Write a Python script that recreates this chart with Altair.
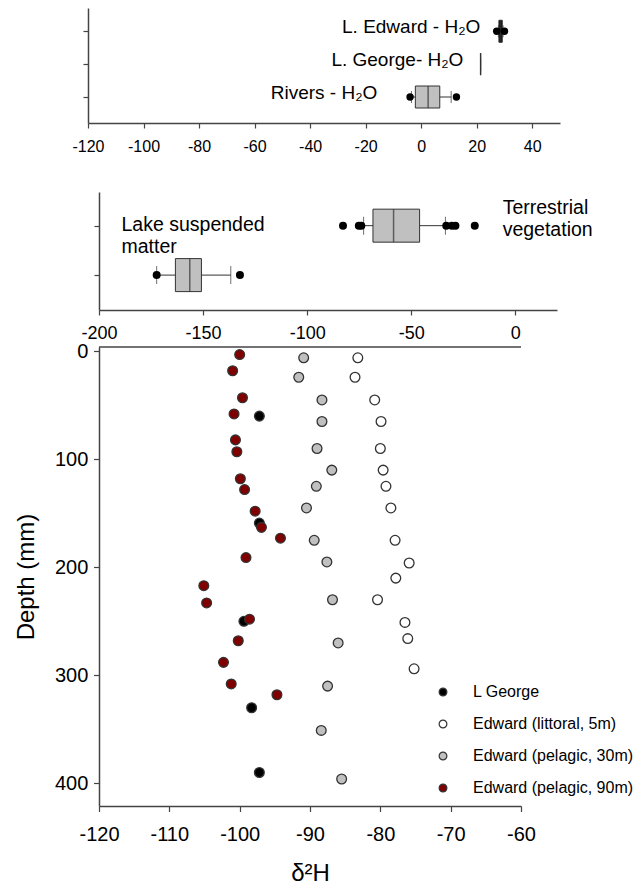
import altair as alt
import pandas as pd

FONT = "Liberation Sans"
AX = "#444444"
EDGE = "#333333"
BOX_FILL = "#c0c0c0"

# ---------------- top panel: water d2H (box summaries) ----------------
water_names = ["L. Edward - H₂O", "L. George- H₂O", "Rivers - H₂O"]
water_row = [1, 2, 3]
water_low = [27.8, 21.4, -3.5]
water_q1 = [28.0, 21.4, -2.1]
water_median = [28.6, 21.4, 2.5]
water_q3 = [29.2, 21.4, 6.7]
water_high = [29.5, 21.4, 10.8]
water_label_at = [21.3, 15.2, -15.8]
water_out_row = [1, 1, 3, 3]
water_out_value = [27.2, 30.0, -4.0, 12.7]

# ---------------- middle panel: organic matter d2H ----------------
mat_names = ["Terrestrial\nvegetation", "Lake suspended\nmatter"]
mat_row = [1, 2]
mat_low = [-72.9, -172.3]
mat_q1 = [-68.4, -163.3]
mat_median = [-58.5, -156.4]
mat_q3 = [-46.0, -150.8]
mat_high = [-33.6, -136.7]
mat_label_at = [-6.1, -189.2]
mat_out_row = [1, 1, 1, 1, 1, 1, 1, 2, 2]
mat_out_value = [-82.8, -75.2, -74.0, -33.2, -30.5, -28.8, -19.5, -172.3, -132.3]

# ---------------- main panel: sediment core profiles ----------------
series_names = ["L George", "Edward (littoral, 5m)", "Edward (pelagic, 30m)", "Edward (pelagic, 90m)"]
series_fill = ["#000000", "#ffffff", "#c0c0c0", "#800000"]

george_depth = [60, 159, 250, 330, 390]
george_dD = [-97.2, -97.2, -99.4, -98.3, -97.2]

littoral_depth = [6, 24, 45, 65, 90, 110, 125, 145, 175, 196, 210, 230, 251, 266, 294]
littoral_dD = [-83.2, -83.6, -80.8, -79.9, -80.0, -79.6, -79.2, -78.5, -77.9, -75.9, -77.8, -80.4, -76.5, -76.1, -75.2]

pel30_depth = [6, 24, 45, 65, 90, 110, 125, 145, 175, 195, 230, 270, 310, 351, 396]
pel30_dD = [-90.9, -91.6, -88.3, -88.3, -89.0, -86.9, -89.1, -90.5, -89.4, -87.6, -86.8, -86.0, -87.5, -88.4, -85.5]

pel90_depth = [3, 18, 43, 58, 82, 93, 118, 128, 148, 163, 173, 191, 217, 233, 248, 268, 288, 308, 318]
pel90_dD = [-100.0, -101.0, -99.6, -100.8, -100.6, -100.4, -99.9, -99.3, -97.8, -96.9, -94.2, -99.1,
            -105.1, -104.7, -98.6, -100.2, -102.3, -101.2, -94.7]

top_ticks = list(range(-120, 41, 20))
mid_ticks = [-200, -150, -100, -50, 0]
main_x_ticks = list(range(-120, -59, 10))
main_y_ticks = [0, 100, 200, 300, 400]

LBL = "'' + datum.value"

# ======================= TOP PANEL =======================
top_df = pd.DataFrame({"name": water_names, "row": water_row, "low": water_low, "q1": water_q1,
                       "median": water_median, "q3": water_q3, "high": water_high,
                       "label_at": water_label_at})
top_out = pd.DataFrame({"row": water_out_row, "value": water_out_value})

x_top = alt.Scale(domain=[-120, 50], range=[-11, 461], nice=False, zero=False)
y_top = alt.Scale(domain=[0.444, 3.639], reverse=True, nice=False, zero=False)
x_top_axis = alt.Axis(values=top_ticks, title=None, grid=False, labelFontSize=16, labelPadding=10,
                      tickSize=5, labelExpr=LBL)
y_top_axis = alt.Axis(values=[1, 2, 3], labels=False, title=None, grid=False, tickSize=5, offset=11)

tb = alt.Chart(top_df).encode(y=alt.Y("row:Q", scale=y_top, axis=y_top_axis))
t_whisk = tb.mark_rule(color=EDGE, strokeWidth=1).encode(
    x=alt.X("low:Q", scale=x_top, axis=x_top_axis), x2="high:Q")
t_box = tb.mark_bar(size=22, stroke=EDGE, strokeWidth=1, orient="horizontal").encode(
    x=alt.X("q1:Q", scale=x_top), x2="q3:Q",
    fill=alt.condition("datum.row == 1", alt.value("#111111"), alt.value(BOX_FILL)))
t_med = tb.mark_tick(orient="vertical", size=22, thickness=1.5, color=EDGE).encode(x=alt.X("median:Q", scale=x_top))
t_clo = tb.mark_tick(orient="vertical", size=12, thickness=1, color=EDGE).encode(x=alt.X("low:Q", scale=x_top))
t_chi = tb.mark_tick(orient="vertical", size=12, thickness=1, color=EDGE).encode(x=alt.X("high:Q", scale=x_top))
t_out = alt.Chart(top_out).mark_circle(size=55, color="black", opacity=1).encode(
    x=alt.X("value:Q", scale=x_top), y=alt.Y("row:Q", scale=y_top))
t_txt = tb.mark_text(align="right", baseline="alphabetic", dy=1.5, fontSize=19, font=FONT, color="black").encode(
    x=alt.X("label_at:Q", scale=x_top), text="name:N")

top = alt.layer(t_whisk, t_box, t_med, t_clo, t_chi, t_out, t_txt).properties(width=461, height=115)

# ======================= MIDDLE PANEL =======================
mid_df = pd.DataFrame({"name": mat_names, "row": mat_row, "low": mat_low, "q1": mat_q1,
                       "median": mat_median, "q3": mat_q3, "high": mat_high, "label_at": mat_label_at})
mid_out = pd.DataFrame({"row": mat_out_row, "value": mat_out_value})

x_mid = alt.Scale(domain=[-200, 20], nice=False, zero=False)
y_mid = alt.Scale(domain=[0.42, 2.605], reverse=True, nice=False, zero=False)
x_mid_axis = alt.Axis(values=mid_ticks, title=None, grid=False, labelFontSize=18, labelPadding=9,
                      tickSize=5, labelExpr=LBL)
y_mid_axis = alt.Axis(values=[1, 2], labels=False, title=None, grid=False, tickSize=5)

mb = alt.Chart(mid_df).encode(y=alt.Y("row:Q", scale=y_mid, axis=y_mid_axis))
m_whisk = mb.mark_rule(color=EDGE, strokeWidth=1).encode(
    x=alt.X("low:Q", scale=x_mid, axis=x_mid_axis), x2="high:Q")
m_box = mb.mark_bar(size=33, fill=BOX_FILL, stroke=EDGE, strokeWidth=1, orient="horizontal").encode(
    x=alt.X("q1:Q", scale=x_mid), x2="q3:Q")
m_med = mb.mark_tick(orient="vertical", size=33, thickness=1.5, color=EDGE).encode(x=alt.X("median:Q", scale=x_mid))
m_clo = mb.mark_tick(orient="vertical", size=18, thickness=1, color=EDGE).encode(x=alt.X("low:Q", scale=x_mid))
m_chi = mb.mark_tick(orient="vertical", size=18, thickness=1, color=EDGE).encode(x=alt.X("high:Q", scale=x_mid))
m_out = alt.Chart(mid_out).mark_circle(size=64, color="black", opacity=1).encode(
    x=alt.X("value:Q", scale=x_mid), y=alt.Y("row:Q", scale=y_mid))
m_txt1 = mb.transform_filter("datum.row == 1").mark_text(
    align="left", baseline="alphabetic", dy=-12, fontSize=19.5, font=FONT, lineBreak="\n", lineHeight=22,
    color="black").encode(x=alt.X("label_at:Q", scale=x_mid), text="name:N")
m_txt2 = mb.transform_filter("datum.row == 2").mark_text(
    align="left", baseline="alphabetic", dy=-44, fontSize=19.5, font=FONT, lineBreak="\n", lineHeight=22,
    color="black").encode(x=alt.X("label_at:Q", scale=x_mid), text="name:N")

mid = alt.layer(m_whisk, m_box, m_med, m_clo, m_chi, m_out, m_txt1, m_txt2).properties(width=458, height=118)

# ======================= MAIN PANEL =======================
rows = []
for name, depths, vals in [(series_names[0], george_depth, george_dD),
                           (series_names[1], littoral_depth, littoral_dD),
                           (series_names[2], pel30_depth, pel30_dD),
                           (series_names[3], pel90_depth, pel90_dD)]:
    for d, v in zip(depths, vals):
        rows.append({"series": name, "depth": d, "dD": v})
pts = pd.DataFrame(rows)

pts_chart = alt.Chart(pts).mark_circle(size=95, opacity=1, stroke=EDGE, strokeWidth=1.3).encode(
    x=alt.X("dD:Q", scale=alt.Scale(domain=[-120, -60], nice=False, zero=False),
            axis=alt.Axis(values=main_x_ticks, title="δ²H", titleFontSize=24, titleFontWeight="normal",
                          titlePadding=17, labelFontSize=20, labelPadding=12.9, tickSize=5.5, grid=False,
                          labelExpr=LBL)),
    y=alt.Y("depth:Q", scale=alt.Scale(domain=[-4, 421], reverse=True, nice=False, zero=False),
            axis=alt.Axis(values=main_y_ticks, title="Depth (mm)", titleFontSize=24, titleFontWeight="normal",
                          titlePadding=16, labelFontSize=20, labelPadding=5.7, tickSize=5.5, grid=False,
                          labelExpr=LBL)),
    fill=alt.Fill("series:N", scale=alt.Scale(domain=series_names, range=series_fill),
                  legend=alt.Legend(title=None, orient="none", legendX=336, legendY=676, padding=0,
                                    symbolType="circle", symbolSize=60, symbolStrokeColor=EDGE,
                                    symbolStrokeWidth=1.2, labelFontSize=16, labelFont=FONT,
                                    labelOffset=22, rowPadding=16, labelColor="black", symbolOpacity=1,
                                    labelLimit=400)),
)
top_line = alt.Chart(pd.DataFrame({"k": [0]})).mark_rule(color=AX, strokeWidth=1.5).encode(
    y=alt.value(0), x=alt.value(0), x2=alt.value(422))

main = alt.layer(pts_chart, top_line).properties(width=422, height=459)

chart = alt.vconcat(top, alt.vconcat(mid, main, spacing=-1), spacing=38).properties(
    padding={"left": 6, "top": 0, "right": 0, "bottom": 0}
).configure(font=FONT).configure_view(stroke=None).configure_axis(
    domainColor=AX, tickColor=AX, labelColor="black", titleColor="black",
    labelFont=FONT, titleFont=FONT, domainWidth=1.5, tickWidth=1.2,
    labelFlush=False, labelOverlap=False
)

chart.save("out.html", embed_options={"renderer": "svg", "actions": False})
